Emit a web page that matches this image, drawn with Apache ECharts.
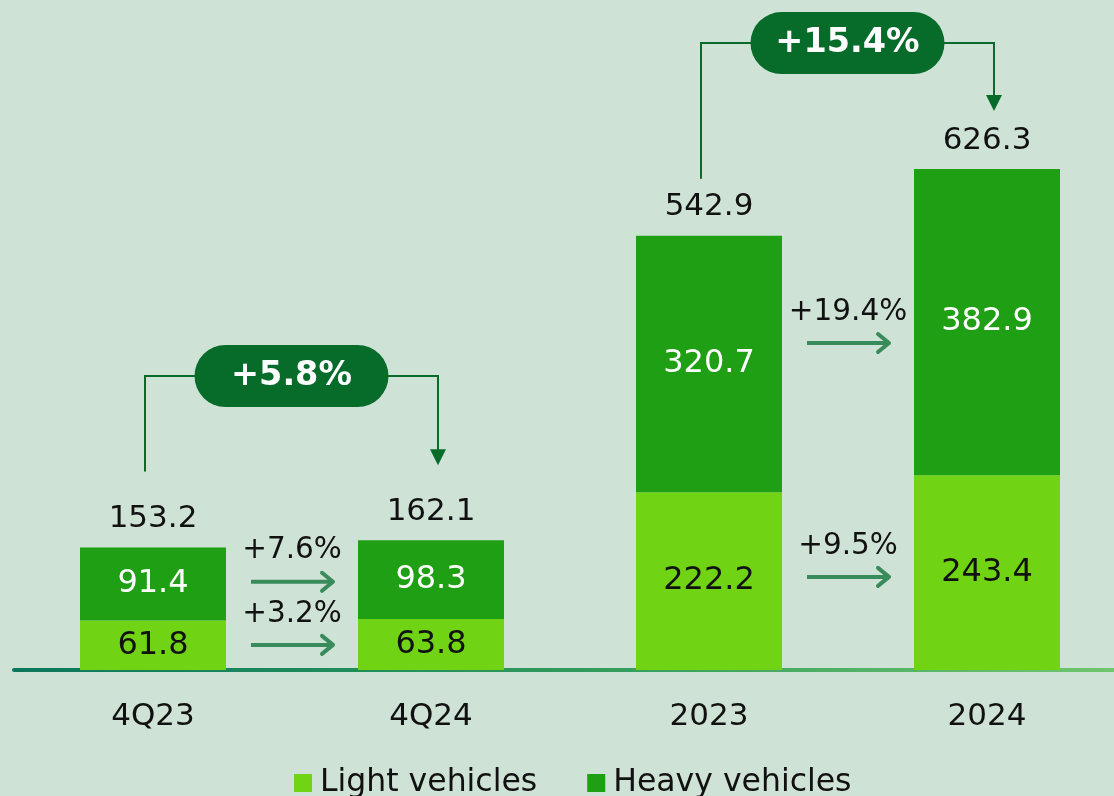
<!DOCTYPE html>
<html>
<head>
<meta charset="utf-8">
<script src="https://cdn.jsdelivr.net/npm/echarts@6/dist/echarts.min.js"></script>
<style>
  html, body { margin: 0; padding: 0; background: #cfe2d6; }
  #chart { width: 1114px; height: 796px; }
</style>
</head>
<body>
<div id="chart"></div>
<script>
const categories = ['4Q23', '4Q24', '2023', '2024'];
const lightValues = [61.8, 63.8, 222.2, 243.4];
const heavyValues = [91.4, 98.3, 320.7, 382.9];
const totalValues = [153.2, 162.1, 542.9, 626.3];
// growth between pairs of categories
const growthPairs = [[0, 1], [2, 3]];
const lightGrowth = ['+3.2%', '+9.5%'];
const heavyGrowth = ['+7.6%', '+19.4%'];
const totalGrowth = ['+5.8%', '+15.4%'];

const FONT = '"DejaVu Sans", Verdana, sans-serif';
const LIGHT = '#70d314';
const HEAVY = '#1f9f14';
const DARK = '#076b2a';
const ARROW = '#3a8b5b';

// one entry per small arrow between bars
const arrowItems = [];
growthPairs.forEach((p, k) => {
  arrowItems.push({ from: p[0], to: p[1], seg: 1, label: heavyGrowth[k] });
  arrowItems.push({ from: p[0], to: p[1], seg: 0, label: lightGrowth[k] });
});

// bracket layout (value level of the horizontal line, pixel gaps above the totals)
const bracketLayout = [
  { level: 367.5, gapFrom: 76, gapTo: 75 },
  { level: 783.7, gapFrom: 57, gapTo: 58 }
];

function segMid(idx, seg) {
  return seg === 0 ? lightValues[idx] / 2 : lightValues[idx] + heavyValues[idx] / 2;
}

let chart = echarts.init(document.getElementById('chart'));
let option = {
  backgroundColor: '#cfe2d6',
  animation: false,
  textStyle: { fontFamily: FONT },
  grid: { left: 14, width: 1112, top: 0, height: 670, outerBoundsMode: 'none', containLabel: false },
  legend: {
    data: ['Light vehicles', 'Heavy vehicles'],
    left: 289,
    top: 762,
    icon: 'rect',
    itemWidth: 18,
    itemHeight: 18,
    itemGap: 50,
    textStyle: { fontSize: 31.5, color: '#111', fontFamily: FONT, padding: [0, 0, 0, 3] }
  },
  xAxis: {
    type: 'category',
    data: categories,
    axisTick: { show: false },
    axisLine: {
      show: true,
      lineStyle: {
        width: 4,
        color: new echarts.graphic.LinearGradient(0, 0, 1, 0, [
          { offset: 0, color: '#0b775a' },
          { offset: 0.5, color: '#2f9a5c' },
          { offset: 1, color: '#72c76e' }
        ])
      }
    },
    axisLabel: { fontSize: 31, color: '#111', margin: 31, fontFamily: FONT },
    splitLine: { show: false }
  },
  yAxis: {
    type: 'value',
    min: 0,
    max: 837.5,
    show: false,
    splitLine: { show: false }
  },
  series: [
    {
      name: 'Light vehicles',
      type: 'bar',
      stack: 'total',
      barWidth: 146,
      itemStyle: { color: LIGHT },
      label: { show: true, position: 'inside', fontSize: 32, color: '#111', fontFamily: FONT },
      data: lightValues
    },
    {
      name: 'Heavy vehicles',
      type: 'bar',
      stack: 'total',
      barWidth: 146,
      itemStyle: { color: HEAVY },
      label: { show: true, position: 'inside', fontSize: 32, color: '#fff', fontFamily: FONT },
      data: heavyValues
    },
    {
      name: 'totals',
      type: 'scatter',
      symbolSize: 0,
      itemStyle: { opacity: 1 },
      label: {
        show: true,
        position: 'top',
        distance: 13,
        fontSize: 31,
        color: '#111',
        fontFamily: FONT,
        formatter: p => totalValues[p.dataIndex].toFixed(1)
      },
      data: totalValues
    },
    {
      name: 'segment growth',
      type: 'custom',
      data: arrowItems.map(it => [it.from, segMid(it.from, it.seg)]),
      renderItem: function (params, api) {
        const it = arrowItems[params.dataIndex];
        const pa = api.coord([it.from, segMid(it.from, it.seg)]);
        const pb = api.coord([it.to, segMid(it.to, it.seg)]);
        const x = (pa[0] + pb[0]) / 2;
        const y = (pa[1] + pb[1]) / 2;
        const half = 41;
        return {
          type: 'group',
          children: [
            {
              type: 'line',
              shape: { x1: x - half, y1: y, x2: x + half - 2, y2: y },
              style: { stroke: ARROW, lineWidth: 4 }
            },
            {
              type: 'polyline',
              shape: { points: [[x + half - 11, y - 9], [x + half, y], [x + half - 11, y + 9]] },
              style: { stroke: ARROW, lineWidth: 4, fill: null, lineCap: 'round', lineJoin: 'round' }
            },
            {
              type: 'text',
              style: {
                x: x, y: y - 31, text: it.label, fill: '#111',
                fontSize: 29.5, fontFamily: FONT, align: 'center', verticalAlign: 'middle'
              }
            }
          ]
        };
      }
    },
    {
      name: 'total growth',
      type: 'custom',
      data: growthPairs.map(p => [p[0], totalValues[p[0]]]),
      renderItem: function (params, api) {
        const k = params.dataIndex;
        const p = growthPairs[k];
        const lay = bracketLayout[k];
        const xl = api.coord([p[0], 0])[0] - 8;
        const xr = api.coord([p[1], 0])[0] + 7;
        const yl = api.coord([p[0], lay.level])[1];
        const yFrom = api.coord([p[0], totalValues[p[0]]])[1] - lay.gapFrom;
        const yTo = api.coord([p[1], totalValues[p[1]]])[1] - lay.gapTo;
        const xc = (xl + xr) / 2;
        return {
          type: 'group',
          children: [
            {
              type: 'polyline',
              shape: { points: [[xl, yFrom], [xl, yl], [xr, yl], [xr, yTo - 14]] },
              style: { stroke: DARK, lineWidth: 2, fill: null }
            },
            {
              type: 'polygon',
              shape: { points: [[xr - 8, yTo - 16], [xr + 8, yTo - 16], [xr, yTo]] },
              style: { fill: DARK }
            },
            {
              type: 'rect',
              shape: { x: xc - 97, y: yl - 31, width: 194, height: 62, r: 31 },
              style: { fill: DARK }
            },
            {
              type: 'text',
              style: {
                x: xc, y: yl, text: totalGrowth[k], fill: '#fff',
                fontSize: 33.5, fontWeight: 'bold', fontFamily: FONT,
                align: 'center', verticalAlign: 'middle'
              }
            }
          ]
        };
      }
    }
  ]
};
option && chart.setOption(option);
</script>
</body>
</html>
